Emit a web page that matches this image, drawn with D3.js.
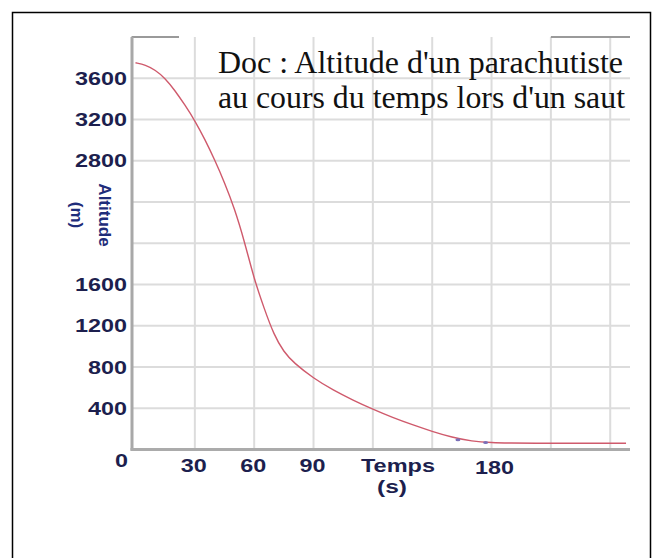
<!DOCTYPE html>
<html>
<head>
<meta charset="utf-8">
<script src="https://cdn.jsdelivr.net/npm/d3@7"></script>
<style>
  body { margin: 0; background: #fff; }
  svg { display: block; }
</style>
</head>
<body>
<div id="chart"></div>
<script>
// chart values
var times = [0, 5, 10, 15, 20, 25, 30, 35, 40, 45, 50, 55, 60, 65, 70, 75, 80, 90, 100, 110, 120, 130, 140, 150, 160, 170, 180, 190, 200, 225, 248];
var altitudes = [3750, 3730, 3680, 3600, 3480, 3340, 3190, 3010, 2810, 2590, 2340, 2025, 1650, 1370, 1110, 945, 840, 690, 575, 478, 390, 310, 240, 175, 118, 80, 66, 62, 60, 60, 60];
var markTimes = [163, 177];
var markAlts = [94, 68];

var xGrid = [30, 60, 90, 120, 150, 180, 210, 240];
var yGrid = [400, 800, 1200, 1600, 2000, 2400, 2800, 3200, 3600];
var xLabels = [30, 60, 90, 180];
var yLabels = [400, 800, 1200, 1600, 2800, 3200, 3600];
var titleLines = ["Doc : Altitude d'un parachutiste", "au cours du temps lors d'un saut"];

var width = 655;
var height = 558;
var navy = "#1d1f4e";

var svg = d3.select("#chart")
  .append("svg")
    .attr("width", width)
    .attr("height", height);

// outer frame
svg.append("rect")
  .attr("x", 12.5).attr("y", 12.5)
  .attr("width", 638).attr("height", 600)
  .style("fill", "none")
  .style("stroke", "black")
  .style("stroke-width", 1.5);

var x = d3.scaleLinear().domain([0, 250]).range([135.5, 630]);
var y = d3.scaleLinear().domain([0, 4000]).range([449.5, 37]);

// grid
svg.selectAll(".vgrid")
  .data(xGrid)
  .enter()
  .append("line")
    .attr("x1", d => x(d)).attr("x2", d => x(d))
    .attr("y1", y(4000)).attr("y2", y(0))
    .style("stroke", "#dcdcdc")
    .style("stroke-width", 2);

svg.selectAll(".hgrid")
  .data(yGrid)
  .enter()
  .append("line")
    .attr("x1", x(0) - 4).attr("x2", x(250))
    .attr("y1", d => y(d)).attr("y2", d => y(d))
    .style("stroke", "#dcdcdc")
    .style("stroke-width", 2);

// partial top border
[[-2, 22], [210, 250]].forEach(function(seg) {
  svg.append("line")
    .attr("x1", x(seg[0])).attr("x2", x(seg[1]))
    .attr("y1", y(4000)).attr("y2", y(4000))
    .style("stroke", "#9a9a9a")
    .style("stroke-width", 2);
});

// axes lines
svg.append("line")
  .attr("x1", x(0) - 3.5).attr("x2", x(0) - 3.5)
  .attr("y1", y(4000)).attr("y2", y(0) + 1)
  .style("stroke", "#a8a8a8")
  .style("stroke-width", 3);
svg.append("line")
  .attr("x1", x(0) - 5).attr("x2", x(250))
  .attr("y1", y(0)).attr("y2", y(0))
  .style("stroke", "#ababab")
  .style("stroke-width", 3);

// title
svg.append("g")
  .selectAll("text")
  .data(titleLines)
  .enter()
  .append("text")
    .attr("x", 218)
    .attr("y", (d, i) => 73 + i * 35)
    .attr("textLength", (d, i) => i === 0 ? 405 : 407)
    .attr("lengthAdjust", "spacingAndGlyphs")
    .style("font-family", "'Liberation Serif', 'Times New Roman', serif")
    .style("font-size", "31px")
    .style("fill", "#111")
    .text(d => d);

// curve
var pts = times.map((t, i) => [t, altitudes[i]]);
var line = d3.line()
  .x(d => x(d[0]))
  .y(d => y(d[1]))
  .curve(d3.curveBasis);

svg.append("path")
  .attr("d", line(pts))
  .style("fill", "none")
  .style("stroke", "#cf5a6c")
  .style("stroke-width", 1.4);

svg.selectAll(".mark")
  .data(markTimes)
  .enter()
  .append("ellipse")
    .attr("cx", d => x(d))
    .attr("cy", (d, i) => y(markAlts[i]))
    .attr("rx", 2.5).attr("ry", 1.5)
    .style("fill", "#7a6fb8");

// tick labels (wide bold digits as in the scan)
var labelFont = "'Liberation Sans', Arial, sans-serif";
svg.selectAll(".ylab")
  .data(yLabels)
  .enter()
  .append("text")
    .attr("x", 127)
    .attr("y", d => y(d) + 6.5)
    .attr("text-anchor", "end")
    .attr("textLength", d => String(d).length * 13)
    .attr("lengthAdjust", "spacingAndGlyphs")
    .style("font-family", labelFont)
    .style("font-weight", "bold")
    .style("font-size", "18px")
    .style("fill", navy)
    .text(d => d);

svg.selectAll(".xlab")
  .data(xLabels)
  .enter()
  .append("text")
    .attr("x", d => x(d) - String(d).length * 6.5 + (d === 180 ? 3 : -1))
    .attr("y", d => d === 180 ? 474 : 472)
    .attr("textLength", d => String(d).length * 13)
    .attr("lengthAdjust", "spacingAndGlyphs")
    .style("font-family", labelFont)
    .style("font-weight", "bold")
    .style("font-size", "18px")
    .style("fill", navy)
    .text(d => d);

// origin label
svg.append("text")
  .attr("x", 115)
  .attr("y", 467)
  .attr("textLength", 13)
  .attr("lengthAdjust", "spacingAndGlyphs")
  .style("font-family", labelFont)
  .style("font-weight", "bold")
  .style("font-size", "18px")
  .style("fill", navy)
  .text("0");

// axis titles
svg.append("text")
  .attr("x", 398)
  .attr("y", 472)
  .attr("text-anchor", "middle")
  .attr("textLength", 74)
  .attr("lengthAdjust", "spacingAndGlyphs")
  .style("font-family", labelFont)
  .style("font-weight", "bold")
  .style("font-size", "18px")
  .style("fill", navy)
  .text("Temps");
svg.append("text")
  .attr("x", 392)
  .attr("y", 493)
  .attr("text-anchor", "middle")
  .attr("textLength", 30)
  .attr("lengthAdjust", "spacingAndGlyphs")
  .style("font-family", labelFont)
  .style("font-weight", "bold")
  .style("font-size", "18px")
  .style("fill", navy)
  .text("(s)");

var yTitle = svg.append("g")
  .attr("transform", "translate(91,215) rotate(90)");
yTitle.append("text")
  .attr("x", 0).attr("y", -8)
  .attr("text-anchor", "middle")
  .style("font-family", labelFont)
  .style("font-weight", "bold")
  .style("font-size", "17px")
  .style("fill", "#1f2d7a")
  .text("Altitude");
yTitle.append("text")
  .attr("x", 0).attr("y", 20)
  .attr("text-anchor", "middle")
  .style("font-family", labelFont)
  .style("font-weight", "bold")
  .style("font-size", "17px")
  .style("fill", "#1f2d7a")
  .text("(m)");
</script>
</body>
</html>
